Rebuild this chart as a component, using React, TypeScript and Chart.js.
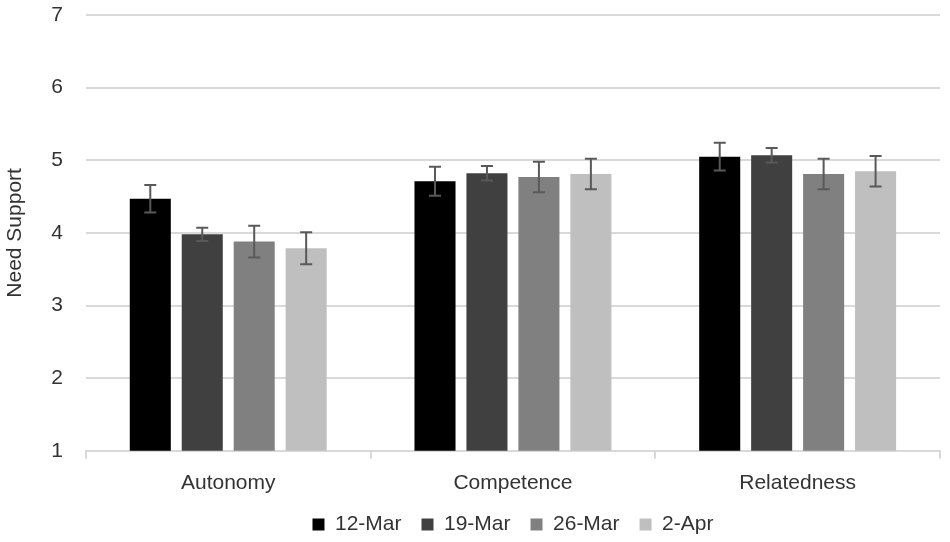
import Chart from 'chart.js/auto';
import { useEffect, useRef } from 'react';

const categories = ['Autonomy', 'Competence', 'Relatedness'];
const seriesLabels = ['12-Mar', '19-Mar', '26-Mar', '2-Apr'];
const seriesColors = ['#000000', '#404040', '#808080', '#bfbfbf'];

const mar12 = [4.47, 4.71, 5.05];
const mar19 = [3.98, 4.82, 5.07];
const mar26 = [3.88, 4.77, 4.81];
const apr2 = [3.79, 4.81, 4.85];

const mar12Err = [0.19, 0.2, 0.19];
const mar19Err = [0.09, 0.1, 0.1];
const mar26Err = [0.22, 0.21, 0.21];
const apr2Err = [0.22, 0.21, 0.21];

const yTicks = [1, 2, 3, 4, 5, 6, 7];

const values = [mar12, mar19, mar26, apr2];
const errors = [mar12Err, mar19Err, mar26Err, apr2Err];

const FONT = '"Liberation Sans", Arial, sans-serif';
const TEXT = '#333333';

const errorBars = {
  id: 'errorBars',
  afterDatasetsDraw(chart: Chart) {
    const { ctx } = chart;
    const yScale = chart.scales.y;
    ctx.save();
    ctx.strokeStyle = '#595959';
    ctx.lineWidth = 2;
    chart.data.datasets.forEach((ds, i) => {
      const meta = chart.getDatasetMeta(i);
      meta.data.forEach((bar, j) => {
        const v = ds.data[j] as number;
        const e = errors[i][j];
        const x = bar.x;
        const top = yScale.getPixelForValue(v + e);
        const bottom = yScale.getPixelForValue(v - e);
        ctx.beginPath();
        ctx.moveTo(x, top);
        ctx.lineTo(x, bottom);
        ctx.moveTo(x - 6, top);
        ctx.lineTo(x + 6, top);
        ctx.moveTo(x - 6, bottom);
        ctx.lineTo(x + 6, bottom);
        ctx.stroke();
      });
    });
    ctx.restore();
  },
};

// trims the legend box a little so the plot can sit lower
const legendTrim = {
  id: 'legendTrim',
  beforeLayout(chart: any) {
    const lg = chart.legend;
    if (lg && !lg._trimmed) {
      const fit = lg.fit.bind(lg);
      lg.fit = () => {
        fit();
        lg.height -= 3;
      };
      lg._trimmed = true;
    }
  },
};

export default function App() {
  const canvasRef = useRef<HTMLCanvasElement>(null);
  const chartRef = useRef<Chart | null>(null);

  useEffect(() => {
    document.body.style.margin = '0';
    if (!canvasRef.current) {
      return;
    }
    if (chartRef.current) {
      chartRef.current.destroy();
    }
    const ctx = canvasRef.current.getContext('2d');
    if (!ctx) {
      return;
    }

    chartRef.current = new Chart(ctx, {
      type: 'bar',
      data: {
        labels: categories,
        datasets: seriesLabels.map((label, i) => ({
          label,
          data: values[i],
          backgroundColor: seriesColors[i],
          borderWidth: 0,
          categoryPercentage: 0.73,
          barPercentage: 0.79,
        })),
      },
      plugins: [errorBars, legendTrim],
      options: {
        animation: false,
        responsive: true,
        maintainAspectRatio: false,
        layout: { padding: { top: 15, right: 10, left: 0, bottom: 0 } },
        plugins: {
          legend: {
            position: 'bottom',
            fullSize: false,
            labels: {
              boxWidth: 12,
              boxHeight: 12,
              padding: 20,
              color: TEXT,
              font: { family: FONT, size: 21 },
            },
          },
          tooltip: { enabled: false },
        },
        scales: {
          x: {
            offset: true,
            afterFit: (axis) => {
              axis.height -= 14;
            },
            grid: {
              display: true,
              offset: true,
              drawOnChartArea: false,
              drawTicks: true,
              tickLength: 8,
              color: '#d9d9d9',
              lineWidth: 2,
            },
            border: { display: true, color: '#d9d9d9', width: 2 },
            ticks: {
              color: TEXT,
              padding: 12,
              font: { family: FONT, size: 21 },
            },
          },
          y: {
            min: 1,
            max: 7,
            afterBuildTicks: (axis) => {
              axis.ticks = yTicks.map((v) => ({ value: v }));
            },
            grid: {
              color: '#d9d9d9',
              lineWidth: 2,
              drawTicks: true,
              tickLength: 23,
              tickColor: 'transparent',
            },
            border: { display: false },
            ticks: {
              color: TEXT,
              padding: 0,
              font: { family: FONT, size: 21 },
            },
            title: {
              display: true,
              text: 'Need Support',
              color: TEXT,
              padding: { top: 3, bottom: 23 },
              font: { family: FONT, size: 21 },
            },
          },
        },
      },
    });

    return () => {
      if (chartRef.current) {
        chartRef.current.destroy();
        chartRef.current = null;
      }
    };
  }, []);

  return (
    <div style={{ width: '950px', height: '542px', position: 'relative' }}>
      <canvas ref={canvasRef} />
    </div>
  );
}
